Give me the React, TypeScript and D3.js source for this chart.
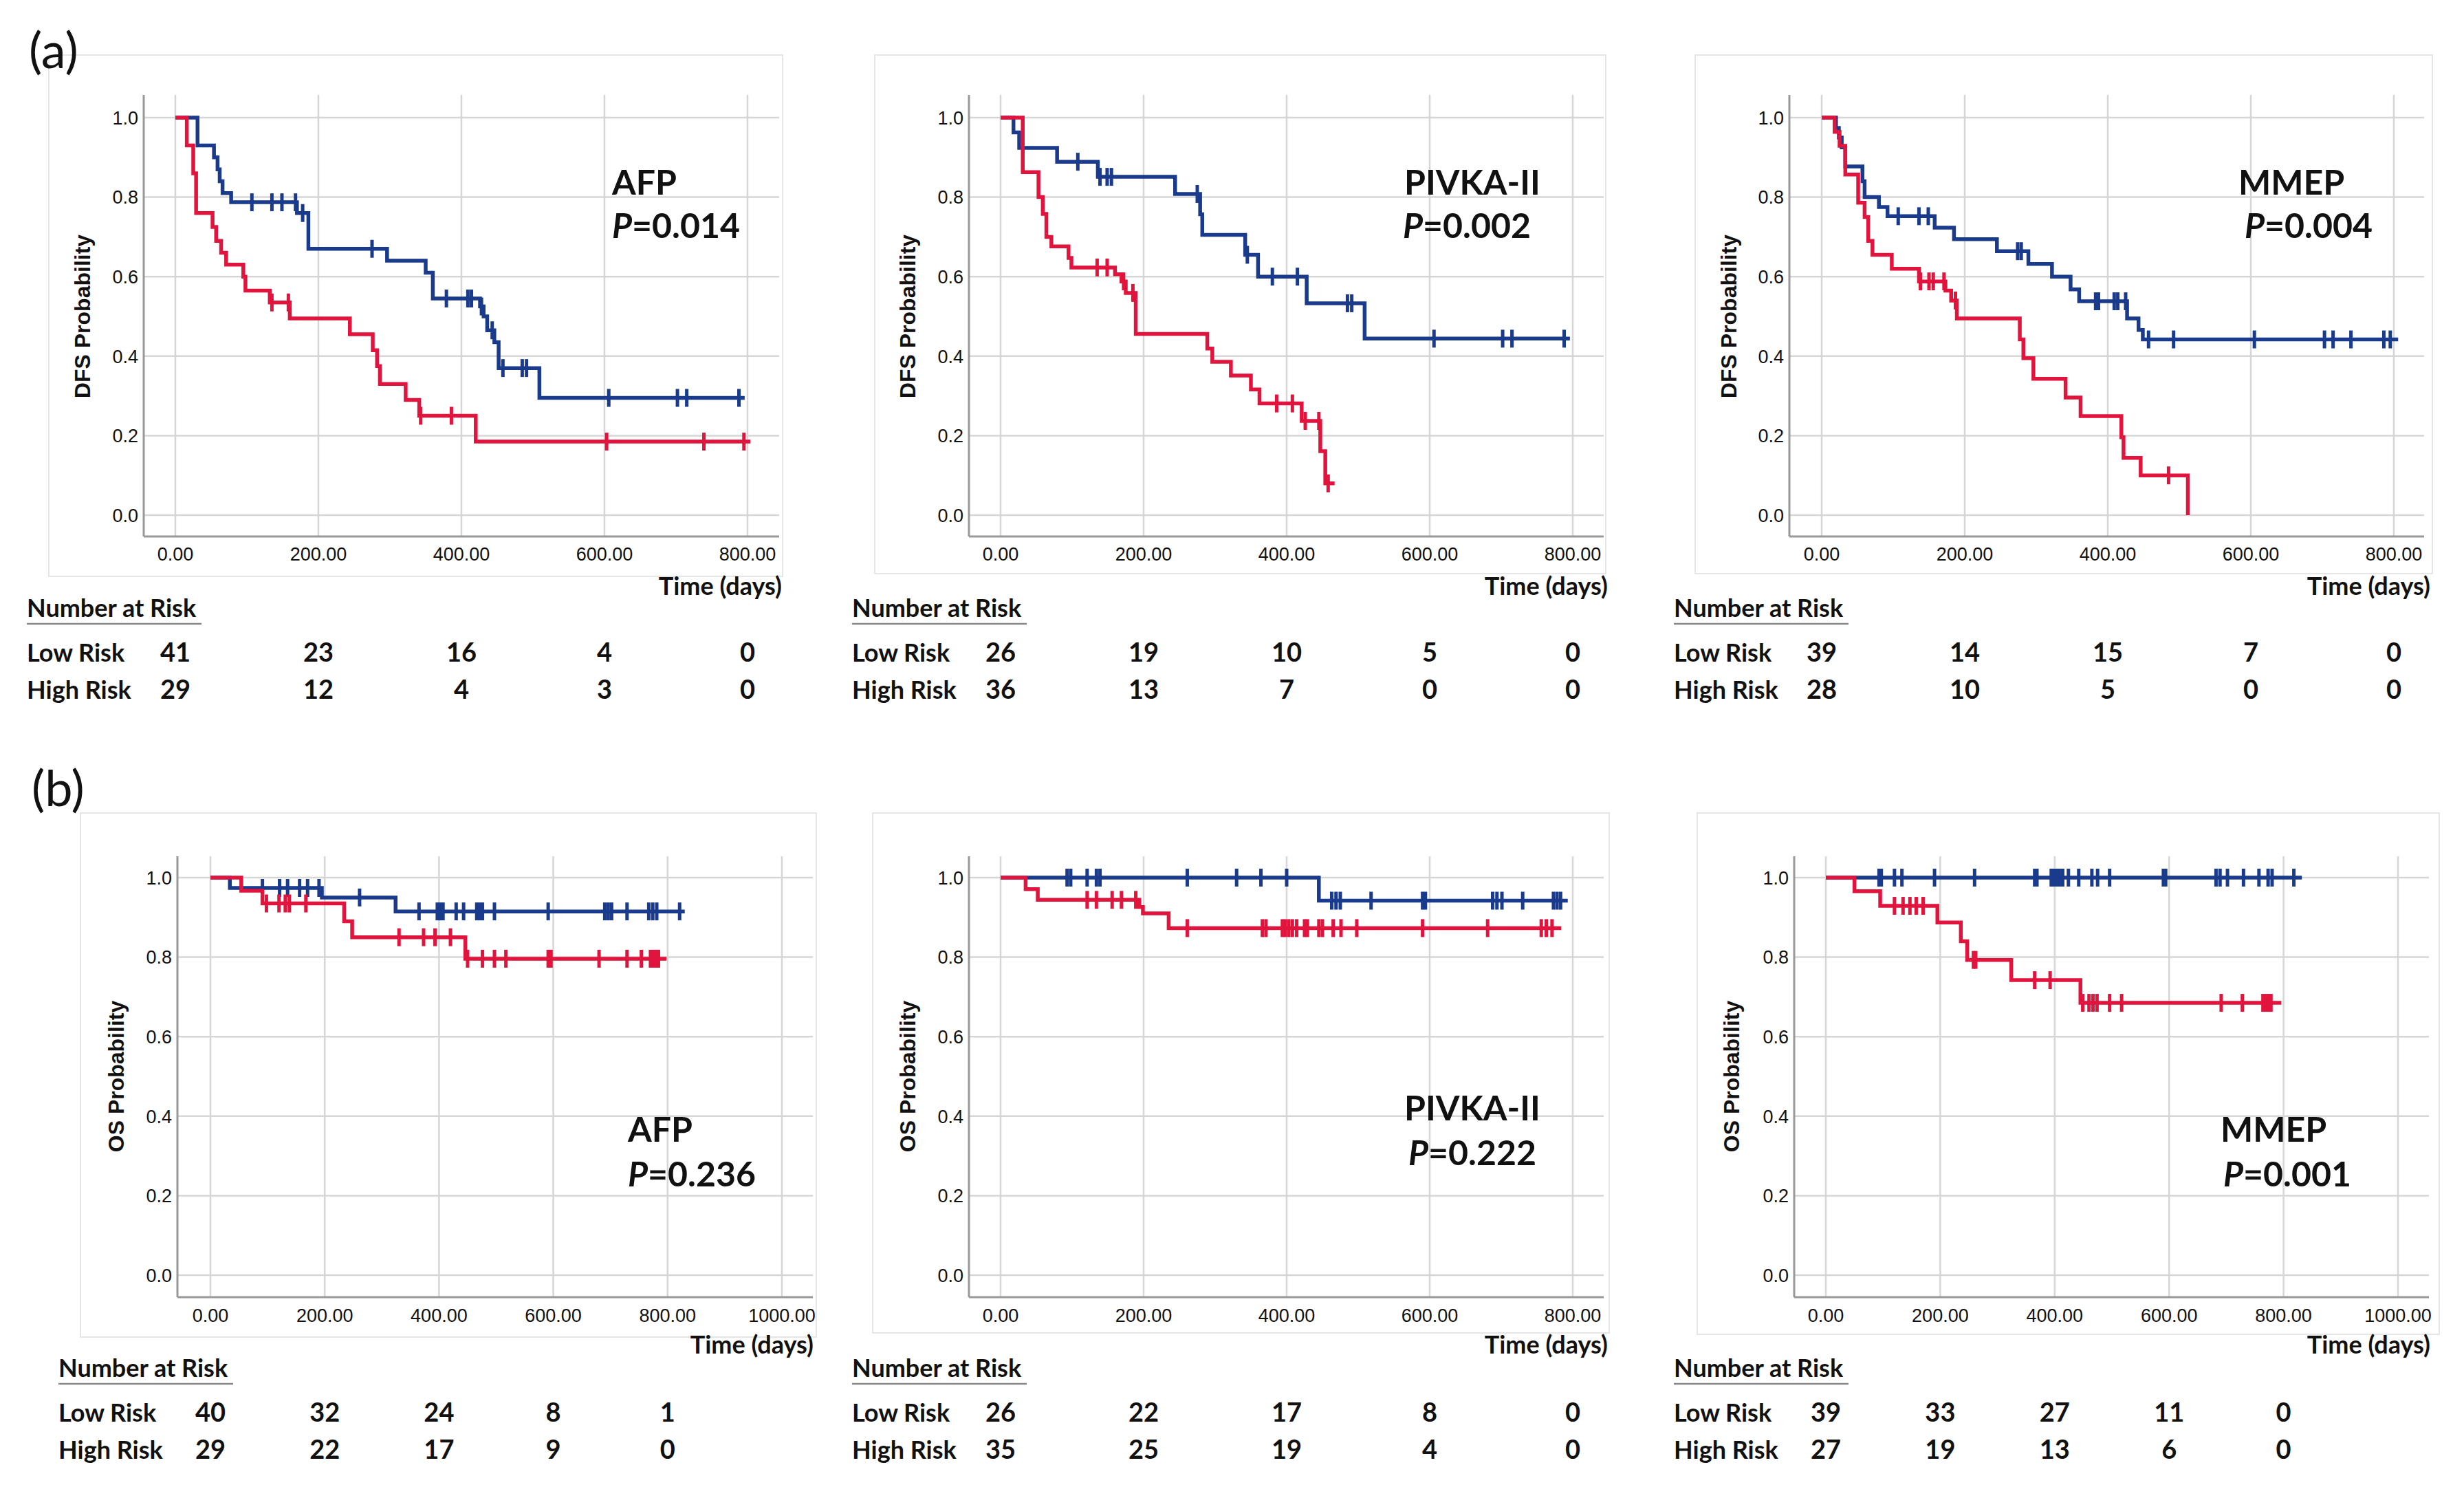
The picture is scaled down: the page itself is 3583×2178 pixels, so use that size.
import React from "react";
import * as d3 from "d3";

type Pt = [number, number];

const yTicks = [0, 0.2, 0.4, 0.6, 0.8, 1.0];
const xTicks800 = [0, 200, 400, 600, 800];
const xTicks1000 = [0, 200, 400, 600, 800, 1000];
const riskTimes = [0, 200, 400, 600, 800];

// (a) DFS - AFP
const afpDfsLow: Pt[] = [[0, 1], [31, 0.93], [54, 0.9], [59, 0.87], [62, 0.84], [66, 0.81], [78, 0.787], [170, 0.76], [186, 0.67], [296, 0.64], [350, 0.61], [360, 0.545], [426, 0.525], [431, 0.5], [436, 0.465], [446, 0.435], [452, 0.37], [509, 0.295]];
const afpDfsLowEnd = 796;
const afpDfsLowCens = [107, 135, 149, 168, 178, 275, 379, 409, 414, 428, 443, 458, 485, 491, 606, 702, 715, 788];
const afpDfsHigh: Pt[] = [[0, 1], [16, 0.93], [25, 0.86], [29, 0.76], [52, 0.725], [57, 0.69], [64, 0.66], [71, 0.63], [95, 0.6], [98, 0.565], [132, 0.535], [160, 0.495], [244, 0.455], [276, 0.415], [282, 0.375], [286, 0.33], [322, 0.29], [341, 0.25], [420, 0.185]];
const afpDfsHighEnd = 804;
const afpDfsHighCens = [135, 158, 343, 386, 603, 739, 795];
const afpDfsLowRisk = [41, 23, 16, 4, 0];
const afpDfsHighRisk = [29, 12, 4, 3, 0];

// (a) DFS - PIVKA-II
const pivkaDfsLow: Pt[] = [[0, 1], [18, 0.963], [26, 0.924], [79, 0.889], [136, 0.851], [244, 0.808], [279, 0.757], [282, 0.705], [342, 0.655], [360, 0.6], [428, 0.533], [509, 0.444]];
const pivkaDfsLowEnd = 796;
const pivkaDfsLowCens = [108, 139, 149, 155, 275, 345, 380, 415, 485, 491, 606, 702, 715, 788];
const pivkaDfsHigh: Pt[] = [[0, 1], [31, 0.863], [53, 0.8], [59, 0.758], [64, 0.7], [71, 0.676], [95, 0.647], [99, 0.623], [160, 0.606], [169, 0.588], [175, 0.559], [189, 0.456], [289, 0.419], [296, 0.386], [322, 0.351], [350, 0.316], [362, 0.281], [421, 0.237], [447, 0.161], [454, 0.08]];
const pivkaDfsHighEnd = 467;
const pivkaDfsHighCens = [135, 149, 172, 185, 386, 408, 426, 445, 458];
const pivkaDfsLowRisk = [26, 19, 10, 5, 0];
const pivkaDfsHighRisk = [36, 13, 7, 0, 0];

// (a) DFS - MMEP
const mmepDfsLow: Pt[] = [[0, 1], [20, 0.974], [24, 0.95], [28, 0.925], [33, 0.877], [57, 0.84], [60, 0.8], [80, 0.775], [92, 0.752], [158, 0.723], [185, 0.694], [245, 0.664], [289, 0.632], [322, 0.6], [348, 0.568], [360, 0.538], [427, 0.495], [443, 0.466], [449, 0.442]];
const mmepDfsLowEnd = 806;
const mmepDfsLowCens = [107, 136, 149, 274, 279, 383, 387, 409, 414, 425, 457, 492, 605, 703, 715, 740, 786, 795];
const mmepDfsHigh: Pt[] = [[0, 1], [18, 0.964], [25, 0.929], [33, 0.857], [51, 0.786], [60, 0.75], [65, 0.69], [71, 0.655], [98, 0.62], [136, 0.588], [173, 0.565], [181, 0.54], [189, 0.495], [277, 0.442], [282, 0.395], [296, 0.343], [341, 0.296], [362, 0.249], [419, 0.196], [422, 0.144], [446, 0.1], [512, 0]];
const mmepDfsHighEnd = 512;
const mmepDfsHighCens = [138, 150, 156, 171, 187, 485];
const mmepDfsLowRisk = [39, 14, 15, 7, 0];
const mmepDfsHighRisk = [28, 10, 5, 0, 0];

// (b) OS - AFP
const afpOsLow: Pt[] = [[0, 1], [34, 0.974], [195, 0.95], [324, 0.915]];
const afpOsLowEnd = 830;
const afpOsLowCens = [91, 121, 135, 156, 170, 190, 261, 365, 397, 402, 407, 430, 443, 466, 471, 476, 497, 591, 690, 696, 702, 729, 767, 774, 781, 821];
const afpOsHigh: Pt[] = [[0, 1], [54, 0.967], [91, 0.935], [234, 0.89], [248, 0.85], [446, 0.796]];
const afpOsHighEnd = 798;
const afpOsHighCens = [98, 120, 131, 138, 167, 330, 373, 393, 420, 450, 476, 497, 517, 591, 596, 680, 729, 754, 770, 775, 780, 784];
const afpOsLowRisk = [40, 32, 24, 8, 1];
const afpOsHighRisk = [29, 22, 17, 9, 0];

// (b) OS - PIVKA-II
const pivkaOsLow: Pt[] = [[0, 1], [445, 0.942]];
const pivkaOsLowEnd = 793;
const pivkaOsLowCens = [93, 98, 121, 134, 139, 261, 330, 364, 400, 463, 469, 475, 518, 590, 594, 688, 694, 701, 730, 773, 778, 783];
const pivkaOsHigh: Pt[] = [[0, 1], [35, 0.971], [52, 0.944], [194, 0.926], [199, 0.91], [235, 0.873]];
const pivkaOsHighEnd = 784;
const pivkaOsHighCens = [121, 134, 156, 169, 189, 261, 366, 371, 394, 398, 403, 408, 414, 425, 429, 445, 450, 465, 476, 498, 590, 681, 756, 763, 771];
const pivkaOsLowRisk = [26, 22, 17, 8, 0];
const pivkaOsHighRisk = [35, 25, 19, 4, 0];

// (b) OS - MMEP
const mmepOsLow: Pt[] = [[0, 1]];
const mmepOsLowEnd = 832;
const mmepOsLowCens = [93, 97, 120, 133, 190, 260, 365, 369, 394, 399, 404, 408, 414, 424, 442, 465, 475, 496, 590, 594, 682, 689, 702, 730, 757, 773, 780, 818];
const mmepOsHigh: Pt[] = [[0, 1], [50, 0.966], [95, 0.929], [195, 0.887], [236, 0.84], [247, 0.793], [324, 0.742], [445, 0.685]];
const mmepOsHighEnd = 796;
const mmepOsHighCens = [120, 135, 147, 158, 170, 258, 262, 365, 392, 449, 460, 467, 474, 496, 517, 691, 728, 764, 769, 773, 778];
const mmepOsLowRisk = [39, 33, 27, 11, 0];
const mmepOsHighRisk = [27, 19, 13, 6, 0];

const BLUE = "#1a3a8c";
const RED = "#e1143d";
const CAL = "Lato, 'Open Sans', sans-serif";
const ARIAL = "'Liberation Sans', Arial, sans-serif";

interface Geo {
  box: [number, number, number, number];
  axisX: number;
  x0: number;
  x1: number;
  y0: number;
  y1: number;
  top: number;
  bottom: number;
  right: number;
  tickBase: number;
  yLabX: number;
  nameX: number;
  nameY: number;
  pX: number;
  pY: number;
  timeX: number;
  timeY: number;
  narX: number;
  narY: number;
  lowY: number;
  highY: number;
}

interface Curve {
  steps: Pt[];
  end: number;
  cens: number[];
  color: string;
}

function survAt(steps: Pt[], t: number) {
  let s = 1;
  for (const [ts, v] of steps) if (ts <= t) s = v;
  return s;
}

function KmPanel({ g, xTicks, curves, name, p, yLabel, lowRisk, highRisk }: {
  g: Geo; xTicks: number[]; curves: Curve[]; name: string; p: string; yLabel: string; lowRisk: number[]; highRisk: number[];
}) {
  const x = d3.scaleLinear().domain([0, xTicks[xTicks.length - 1]]).range([g.x0, g.x1]);
  const y = d3.scaleLinear().domain([0, 1]).range([g.y0, g.y1]);
  const line = d3.line<Pt>().x((d) => x(d[0])).y((d) => y(d[1])).curve(d3.curveStepAfter);
  const yMid = (g.y0 + g.y1) / 2;

  return (
    <g>
      <rect x={g.box[0]} y={g.box[1]} width={g.box[2] - g.box[0]} height={g.box[3] - g.box[1]} fill="#fff" stroke="#e6e6e6" strokeWidth={2} />
      {/* grid */}
      {yTicks.map((t) => (
        <line key={"gy" + t} x1={g.axisX} x2={g.right} y1={y(t)} y2={y(t)} stroke="#d6d6d6" strokeWidth={2.5} />
      ))}
      {xTicks.map((t) => (
        <line key={"gx" + t} x1={x(t)} x2={x(t)} y1={g.top} y2={g.bottom} stroke="#d6d6d6" strokeWidth={2.5} />
      ))}
      {/* axes */}
      <line x1={g.axisX} x2={g.axisX} y1={g.top} y2={g.bottom} stroke="#999" strokeWidth={3} />
      <line x1={g.axisX} x2={g.right} y1={g.bottom} y2={g.bottom} stroke="#999" strokeWidth={3} />
      {yTicks.map((t) => (
        <text key={"ty" + t} x={g.axisX - 8} y={y(t)} dy="0.36em" textAnchor="end" fontFamily={ARIAL} fontSize={27} fill="#111">
          {t.toFixed(1)}
        </text>
      ))}
      {xTicks.map((t) => (
        <text key={"tx" + t} x={x(t)} y={g.tickBase} textAnchor="middle" fontFamily={ARIAL} fontSize={27} fill="#111">
          {t.toFixed(2)}
        </text>
      ))}
      <text transform={`translate(${g.yLabX},${yMid}) rotate(-90)`} textAnchor="middle" dy="0.36em" fontFamily={ARIAL} fontWeight="bold" fontSize={32} fill="#111">
        {yLabel}
      </text>
      {/* curves */}
      {curves.map((c, i) => {
        const pts: Pt[] = [...c.steps, [c.end, c.steps[c.steps.length - 1][1]]];
        return (
          <g key={"c" + i}>
            <path d={line(pts) ?? ""} fill="none" stroke={c.color} strokeWidth={5.5} />
            {c.cens.map((t, j) => {
              const s = survAt(c.steps, t);
              return <line key={j} x1={x(t)} x2={x(t)} y1={y(s) - 13} y2={y(s) + 13} stroke={c.color} strokeWidth={5} />;
            })}
          </g>
        );
      })}
      {/* annotation */}
      <text x={g.nameX} y={g.nameY} fontFamily={CAL} fontWeight="bold" fontSize={50} fill="#111">{name}</text>
      <text x={g.pX} y={g.pY} fontFamily={CAL} fontWeight="bold" fontSize={50} fill="#111">
        <tspan fontStyle="italic">P</tspan>
        <tspan>{"=" + p}</tspan>
      </text>
      <text x={g.timeX} y={g.timeY} textAnchor="end" fontFamily={CAL} fontWeight="bold" fontSize={36} fill="#111">Time (days)</text>
      {/* risk table */}
      <text x={g.narX} y={g.narY} fontFamily={CAL} fontWeight="bold" fontSize={36} fill="#111">Number at Risk</text>
      <line x1={g.narX} x2={g.narX + 254} y1={g.narY + 10} y2={g.narY + 10} stroke="#888" strokeWidth={2.5} />
      <text x={g.narX} y={g.lowY} fontFamily={CAL} fontWeight="bold" fontSize={36} fill="#111">Low Risk</text>
      <text x={g.narX} y={g.highY} fontFamily={CAL} fontWeight="bold" fontSize={36} fill="#111">High Risk</text>
      {riskTimes.map((t, i) => (
        <g key={"r" + t}>
          <text x={x(t)} y={g.lowY} textAnchor="middle" fontFamily={CAL} fontWeight="bold" fontSize={38} fill="#111">{lowRisk[i]}</text>
          <text x={x(t)} y={g.highY} textAnchor="middle" fontFamily={CAL} fontWeight="bold" fontSize={38} fill="#111">{highRisk[i]}</text>
        </g>
      ))}
    </g>
  );
}

const rowA = { top: 138, bottom: 780, y0: 749, y1: 171, tickBase: 815, nameY: 283, pY: 346, timeY: 865, narY: 897, lowY: 962, highY: 1016 };
const rowB = { top: 1245, bottom: 1886, y0: 1854, y1: 1276, tickBase: 1922, nameY: 1660, pY: 1725, timeY: 1968, narY: 2002, lowY: 2067, highY: 2121 };

const geoA1: Geo = { ...rowA, box: [71, 80, 1138, 838], axisX: 209, x0: 255, x1: 1087, right: 1133, yLabX: 119, nameX: 890, pX: 890, timeX: 1137, narX: 39 };
const geoA2: Geo = { ...rowA, box: [1272, 80, 2335, 834], axisX: 1409, x0: 1455, x1: 2287, right: 2332, yLabX: 1319, nameX: 2042, pX: 2040, timeX: 2338, narX: 1239 };
const geoA3: Geo = { ...rowA, box: [2465, 80, 3537, 834], axisX: 2602, x0: 2649, x1: 3481, right: 3525, yLabX: 2513, nameX: 3255, pX: 3264, timeX: 3534, narX: 2434 };
const geoB1: Geo = { ...rowB, box: [117, 1182, 1187, 1944], axisX: 258, x0: 306, x1: 1137, right: 1182, yLabX: 168, nameX: 913, pX: 913, timeX: 1183, narX: 85 };
const geoB2: Geo = { ...rowB, box: [1269, 1182, 2340, 1938], axisX: 1409, x0: 1455, x1: 2287, right: 2332, yLabX: 1319, nameX: 2042, pX: 2048, timeX: 2338, narX: 1239, nameY: 1629, pY: 1694 };
const geoB3: Geo = { ...rowB, box: [2468, 1182, 3547, 1940], axisX: 2609, x0: 2655, x1: 3487, right: 3532, yLabX: 2517, nameX: 3229, pX: 3233, timeX: 3534, narX: 2434 };

export default function App() {
  const mk = (steps: Pt[], end: number, cens: number[], color: string): Curve => ({ steps, end, cens, color });
  return (
    <svg width={3583} height={2178} style={{ position: "absolute", left: 0, top: 0, background: "#fff" }}>
      <rect width={3583} height={2178} fill="#fff" />
      <KmPanel g={geoA1} xTicks={xTicks800} name="AFP" p="0.014" yLabel="DFS Probability" lowRisk={afpDfsLowRisk} highRisk={afpDfsHighRisk}
        curves={[mk(afpDfsLow, afpDfsLowEnd, afpDfsLowCens, BLUE), mk(afpDfsHigh, afpDfsHighEnd, afpDfsHighCens, RED)]} />
      <KmPanel g={geoA2} xTicks={xTicks800} name="PIVKA-II" p="0.002" yLabel="DFS Probability" lowRisk={pivkaDfsLowRisk} highRisk={pivkaDfsHighRisk}
        curves={[mk(pivkaDfsLow, pivkaDfsLowEnd, pivkaDfsLowCens, BLUE), mk(pivkaDfsHigh, pivkaDfsHighEnd, pivkaDfsHighCens, RED)]} />
      <KmPanel g={geoA3} xTicks={xTicks800} name="MMEP" p="0.004" yLabel="DFS Probability" lowRisk={mmepDfsLowRisk} highRisk={mmepDfsHighRisk}
        curves={[mk(mmepDfsLow, mmepDfsLowEnd, mmepDfsLowCens, BLUE), mk(mmepDfsHigh, mmepDfsHighEnd, mmepDfsHighCens, RED)]} />
      <KmPanel g={geoB1} xTicks={xTicks1000} name="AFP" p="0.236" yLabel="OS Probability" lowRisk={afpOsLowRisk} highRisk={afpOsHighRisk}
        curves={[mk(afpOsLow, afpOsLowEnd, afpOsLowCens, BLUE), mk(afpOsHigh, afpOsHighEnd, afpOsHighCens, RED)]} />
      <KmPanel g={geoB2} xTicks={xTicks800} name="PIVKA-II" p="0.222" yLabel="OS Probability" lowRisk={pivkaOsLowRisk} highRisk={pivkaOsHighRisk}
        curves={[mk(pivkaOsLow, pivkaOsLowEnd, pivkaOsLowCens, BLUE), mk(pivkaOsHigh, pivkaOsHighEnd, pivkaOsHighCens, RED)]} />
      <KmPanel g={geoB3} xTicks={xTicks1000} name="MMEP" p="0.001" yLabel="OS Probability" lowRisk={mmepOsLowRisk} highRisk={mmepOsHighRisk}
        curves={[mk(mmepOsLow, mmepOsLowEnd, mmepOsLowCens, BLUE), mk(mmepOsHigh, mmepOsHighEnd, mmepOsHighCens, RED)]} />
      <text x={42} y={99} fontFamily={CAL} fontSize={72} fill="#111">(a)</text>
      <text x={46} y={1172} fontFamily={CAL} fontSize={72} fill="#111">(b)</text>
    </svg>
  );
}
